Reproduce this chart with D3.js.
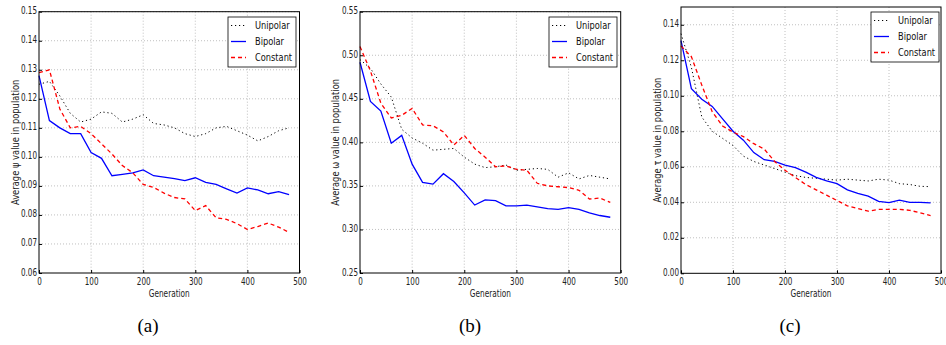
<!DOCTYPE html>
<html>
<head>
<meta charset="utf-8">
<script src="https://cdn.jsdelivr.net/npm/d3@7"></script>
<style>
  body { margin: 0; background: #fff; }
  svg text { font-family: "DejaVu Sans", sans-serif; }
  .grid-line { stroke: #b0b0b0; stroke-dasharray: 1,2; stroke-width: 0.8; }
  svg text.caption { font-family: "Liberation Serif", "DejaVu Serif", serif; font-size: 19px; }
</style>
</head>
<body>
<div id="wrapper"></div>
<script>
// 1. Data
const generations = d3.range(0, 500, 20)
const seriesNames = ["Unipolar", "Bipolar", "Constant"]

const psiUnipolar = [0.125, 0.126, 0.121, 0.115, 0.112, 0.113, 0.1155, 0.115, 0.112, 0.113, 0.1145, 0.1115, 0.111, 0.110, 0.108, 0.107, 0.108, 0.110, 0.1105, 0.109, 0.1075, 0.1055, 0.107, 0.109, 0.110]
const psiBipolar = [0.128, 0.1125, 0.110, 0.108, 0.108, 0.1015, 0.0995, 0.0935, 0.094, 0.0945, 0.0955, 0.0935, 0.093, 0.0925, 0.0918, 0.0928, 0.0912, 0.0905, 0.089, 0.0875, 0.0893, 0.0886, 0.0873, 0.088, 0.087]
const psiConstant = [0.129, 0.130, 0.1165, 0.110, 0.1105, 0.108, 0.1045, 0.101, 0.097, 0.0945, 0.0905, 0.0895, 0.0875, 0.086, 0.0855, 0.0815, 0.0832, 0.079, 0.0785, 0.077, 0.075, 0.076, 0.0772, 0.0758, 0.074]

const omegaUnipolar = [0.495, 0.485, 0.467, 0.452, 0.415, 0.405, 0.399, 0.391, 0.392, 0.393, 0.383, 0.375, 0.371, 0.372, 0.374, 0.368, 0.369, 0.370, 0.369, 0.360, 0.365, 0.358, 0.362, 0.360, 0.358]
const omegaBipolar = [0.492, 0.447, 0.436, 0.399, 0.408, 0.375, 0.354, 0.352, 0.364, 0.355, 0.342, 0.328, 0.334, 0.333, 0.327, 0.327, 0.328, 0.326, 0.324, 0.323, 0.325, 0.323, 0.319, 0.316, 0.314]
const omegaConstant = [0.510, 0.482, 0.445, 0.428, 0.431, 0.439, 0.420, 0.419, 0.412, 0.397, 0.408, 0.393, 0.383, 0.372, 0.373, 0.369, 0.368, 0.353, 0.350, 0.349, 0.348, 0.345, 0.335, 0.336, 0.331]

const tauUnipolar = [0.135, 0.116, 0.088, 0.080, 0.076, 0.072, 0.066, 0.063, 0.061, 0.059, 0.057, 0.055, 0.054, 0.0535, 0.053, 0.0525, 0.053, 0.0525, 0.052, 0.053, 0.0525, 0.0505, 0.050, 0.049, 0.0488]
const tauBipolar = [0.131, 0.104, 0.098, 0.094, 0.087, 0.080, 0.075, 0.068, 0.064, 0.063, 0.061, 0.0595, 0.057, 0.054, 0.052, 0.0505, 0.047, 0.045, 0.0435, 0.0405, 0.0398, 0.0412, 0.040, 0.040, 0.0397]
const tauConstant = [0.128, 0.122, 0.106, 0.091, 0.083, 0.0795, 0.077, 0.073, 0.070, 0.063, 0.058, 0.054, 0.050, 0.047, 0.044, 0.041, 0.038, 0.0365, 0.035, 0.036, 0.036, 0.036, 0.0355, 0.034, 0.0325]

const xTicks = [0, 100, 200, 300, 400, 500]
const psiTicks = [0.06, 0.07, 0.08, 0.09, 0.10, 0.11, 0.12, 0.13, 0.14, 0.15]
const omegaTicks = [0.25, 0.30, 0.35, 0.40, 0.45, 0.50, 0.55]
const tauTicks = [0.00, 0.02, 0.04, 0.06, 0.08, 0.10, 0.12, 0.14]

const panels = [
  { caption: "(a)", symbol: "ψ", series: [psiUnipolar, psiBipolar, psiConstant], yDomain: [0.06, 0.15], yTicks: psiTicks,
    left: 39, right: 299.5, top: 11.7, bottom: 273, labelX: 15, captionX: 148, legend: [228, 17] },
  { caption: "(b)", symbol: "ω", series: [omegaUnipolar, omegaBipolar, omegaConstant], yDomain: [0.25, 0.55], yTicks: omegaTicks,
    left: 360, right: 620.7, top: 11.7, bottom: 273, labelX: 335, captionX: 470, legend: [549, 17] },
  { caption: "(c)", symbol: "τ", series: [tauUnipolar, tauBipolar, tauConstant], yDomain: [0, 0.15], yTicks: tauTicks,
    left: 681, right: 941, top: 7, bottom: 273.3, labelX: 657, captionX: 790, legend: [871, 12] },
]

const styles = [
  { color: "#000", dash: "1.2,2.8", width: 1 },
  { color: "#0000ff", dash: null, width: 1.3 },
  { color: "#ff0000", dash: "4,3", width: 1.3 },
]

// the source figure was squeezed sideways, so every text is narrowed
const squeeze = (sel, k) => sel.each(function() {
  const w = this.getComputedTextLength()
  d3.select(this).attr("textLength", w * k).attr("lengthAdjust", "spacingAndGlyphs")
})

// 2. Canvas
const svg = d3.select("#wrapper")
  .append("svg")
    .attr("width", 946)
    .attr("height", 345)

panels.forEach(p => {
  const xScale = d3.scaleLinear().domain([0, 500]).range([p.left, p.right])
  const yScale = d3.scaleLinear().domain(p.yDomain).range([p.bottom, p.top])

  const g = svg.append("g")

  // grid
  g.selectAll(".gx").data(xTicks.slice(1, -1)).join("line")
    .attr("class", "grid-line")
    .attr("x1", d => xScale(d)).attr("x2", d => xScale(d))
    .attr("y1", p.top).attr("y2", p.bottom)
  g.selectAll(".gy").data(p.yTicks.slice(1)).join("line")
    .attr("class", "grid-line")
    .attr("x1", p.left).attr("x2", p.right)
    .attr("y1", d => yScale(d)).attr("y2", d => yScale(d))

  // axes
  const xAxis = g.append("g")
    .attr("transform", `translate(0, ${p.bottom})`)
    .call(d3.axisBottom(xScale).tickValues(xTicks).tickSize(-3).tickPadding(6).tickFormat(d3.format("d")))
  const yAxis = g.append("g")
    .attr("transform", `translate(${p.left}, 0)`)
    .call(d3.axisLeft(yScale).tickValues(p.yTicks).tickSize(-3).tickPadding(2).tickFormat(d3.format(".2f")))
  ;[xAxis, yAxis].forEach(a => {
    a.select(".domain").remove()
    a.selectAll("text").attr("font-size", 10).attr("fill", "#222")
      .style("font-family", "'DejaVu Sans', sans-serif")
      .call(squeeze, 0.72)
    a.selectAll(".tick line").attr("stroke", "#000")
  })
  xAxis.selectAll("text").attr("dy", "0.6em")
  yAxis.selectAll("text").attr("dy", "0.2em")

  // series lines
  const lineGen = d3.line()
    .x((d, i) => xScale(generations[i]))
    .y(d => yScale(d))

  const plot = g.append("g")
  p.series.forEach((values, i) => {
    plot.append("path")
      .datum(values)
      .attr("d", lineGen)
      .attr("fill", "none")
      .attr("stroke", styles[i].color)
      .attr("stroke-width", styles[i].width)
      .attr("stroke-dasharray", styles[i].dash)
  })

  // frame
  g.append("rect")
    .attr("x", p.left).attr("y", p.top)
    .attr("width", p.right - p.left).attr("height", p.bottom - p.top)
    .attr("fill", "none").attr("stroke", "#000").attr("stroke-width", 1)

  // axis labels
  g.append("text")
    .attr("x", (p.left + p.right) / 2).attr("y", p.bottom + 24)
    .attr("text-anchor", "middle").attr("font-size", 10.5).attr("fill", "#222")
    .text("Generation")
    .call(squeeze, 0.7)
  g.append("text")
    .attr("transform", `translate(${p.labelX}, ${(p.top + p.bottom) / 2}) rotate(-90)`)
    .attr("text-anchor", "middle").attr("dy", "0.35em").attr("font-size", 11).attr("fill", "#222")
    .text(`Average ${p.symbol} value in population`)
    .call(squeeze, 0.76)

  // legend
  const [lx, ly] = p.legend
  const legend = g.append("g").attr("transform", `translate(${lx}, ${ly})`)
  legend.append("rect")
    .attr("width", 68).attr("height", 50)
    .attr("fill", "#fff").attr("stroke", "#000").attr("stroke-width", 0.8)
  seriesNames.forEach((name, i) => {
    const y = 8.5 + i * 16
    legend.append("line")
      .attr("x1", 3).attr("x2", 18).attr("y1", y).attr("y2", y)
      .attr("stroke", styles[i].color)
      .attr("stroke-width", styles[i].width)
      .attr("stroke-dasharray", styles[i].dash)
    legend.append("text")
      .attr("x", 27).attr("y", y).attr("dy", "0.35em")
      .attr("font-size", 11).attr("fill", "#111")
      .text(name)
      .call(squeeze, 0.75)
  })

  // caption
  svg.append("text")
    .attr("class", "caption")
    .attr("x", p.captionX).attr("y", 332)
    .attr("text-anchor", "middle")
    .text(p.caption)
})
</script>
</body>
</html>
